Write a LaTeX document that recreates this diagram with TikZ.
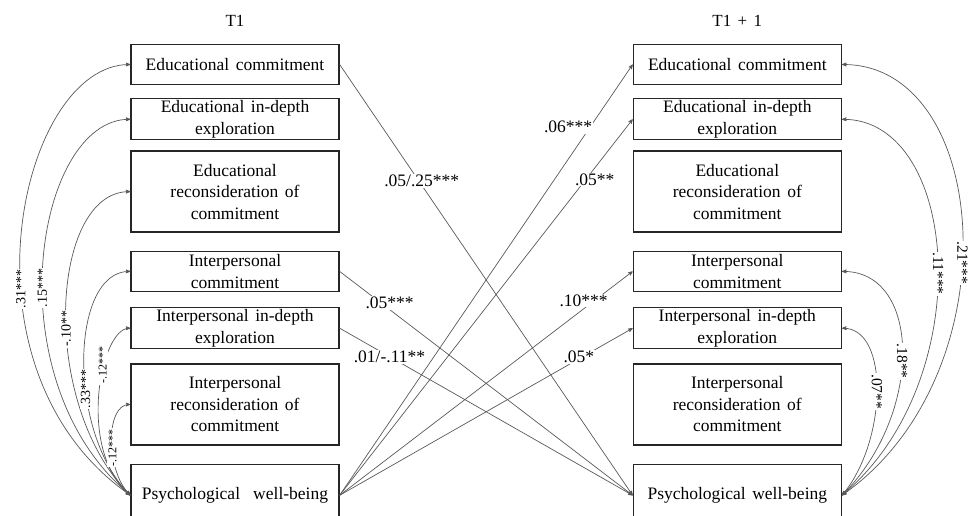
\documentclass[tikz,border=0pt]{standalone}
\usepackage{fontspec}
\setmainfont[WordSpace=1.5]{Liberation Serif}
\usepackage{tikz}
\usetikzlibrary{arrows,positioning}

\begin{document}
\begin{tikzpicture}[x=1pt,y=1pt,->,>=stealth',line width=0.7pt,black!65,
	box/.style={draw=black!85,line width=1.3pt,rectangle,minimum width=208pt,minimum height=40pt,inner sep=1pt,align=center,text=black,font=\fontsize{17.5}{21.5}\selectfont},
	tall/.style={box,minimum height=81pt},
	title/.style={text=black,font=\fontsize{17}{20}\selectfont},
	coef/.style={fill=white,inner sep=1pt,text=black,font=\fontsize{17.5}{20}\selectfont},
	lcorr/.style={fill=white,inner sep=1pt,rotate=90,text=black,font=\fontsize{14}{16}\selectfont},
	lsmall/.style={lcorr,font=\fontsize{12}{14}\selectfont},
	rcorr/.style={fill=white,inner sep=1pt,rotate=-90,text=black,font=\fontsize{15.5}{17}\selectfont}]
	\useasboundingbox (0,0) rectangle (968,-516);

	\node[box]				(lEC)	at (235,-64.5)					{Educational commitment};
	\node[box]				(lED)	[below=13pt of lEC,minimum height=41pt]	{Educational in-depth\\exploration};
	\node[tall]				(lER)	[below=10pt of lED]				{Educational\\reconsideration of\\commitment};
	\node[box]				(lIC)	[below=18pt of lER]				{Interpersonal\\commitment};
	\node[box]				(lID)	[below=15pt of lIC,minimum height=41pt]	{Interpersonal in-depth\\exploration};
	\node[tall]				(lIR)	[below=14pt of lID]				{Interpersonal\\reconsideration of\\commitment};
	\node[box]				(lPWB)	[below=18pt of lIR,minimum height=62pt]	{Psychological\ \ well-being};

	\node[box]				(rEC)	[right=293pt of lEC]			{Educational commitment};
	\node[box]				(rED)	[right=293pt of lED,minimum height=41pt]	{Educational in-depth\\exploration};
	\node[tall]				(rER)	[right=293pt of lER]			{Educational\\reconsideration of\\commitment};
	\node[box]				(rIC)	[right=293pt of lIC]			{Interpersonal\\commitment};
	\node[box]				(rID)	[right=293pt of lID,minimum height=41pt]	{Interpersonal in-depth\\exploration};
	\node[tall]				(rIR)	[right=293pt of lIR]			{Interpersonal\\reconsideration of\\commitment};
	\node[box]				(rPWB)	[right=293pt of lPWB,minimum height=62pt]	{Psychological well-being};

	\node[title]			(t1)	[above=14pt of lEC]				{T1};
	\node[title]			(t2)	[above=14pt of rEC]				{T1 + 1};

	\path
		(lEC.east)	edge	node[coef,pos=0.27,xshift=3pt]		{.05/.25***}	(rPWB.west)
		(lIC.east)	edge	node[coef,pos=0.14,xshift=9pt]		{.05***}		(rPWB.west)
		(lID.east)	edge	node[coef,pos=0.17]					{.01/-.11**}	(rPWB.west)
		(lPWB.east)	edge	node[coef,pos=0.855,xshift=-22pt]	{.06***}		(rEC.west)
		(lPWB.east)	edge	node[coef,pos=0.84,xshift=9pt]		{.05**}			(rED.west)
		(lPWB.east)	edge	node[coef,pos=0.87,xshift=-11pt]	{.10***}		(rIC.west)
		(lPWB.east)	edge	node[coef,pos=0.83,xshift=-4pt]		{.05*}			(rID.west)
	;

	\path[<->]
		(lPWB.west)	edge	[out=145,in=180,out distance=220pt,in distance=110pt]	node[lcorr,pos=0.4]		{.31***}	(lEC.west)
		(lPWB.west)	edge	[out=140,in=180,out distance=180pt,in distance=95pt]	node[lcorr,pos=0.45]	{.15***}	(lED.west)
		(lPWB.west)	edge	[out=135,in=180,out distance=130pt,in distance=80pt]	node[lcorr,pos=0.45]	{-.10**}	(lER.west)
		(lPWB.west)	edge	[out=135,in=180,out distance=90pt,in distance=60pt]		node[lcorr,pos=0.4]		{.33***}	(lIC.west)
		(lPWB.west)	edge	[out=140,in=180,out distance=70pt,in distance=30pt]		node[lsmall,pos=0.62,xshift=5pt]	{-.12***}	(lID.west)
		(lPWB.west)	edge	[out=135,in=180,out distance=35pt,in distance=25pt]		node[lsmall,pos=0.4,xshift=5pt]		{-.12***}	(lIR.west)
		(rPWB.east)	edge	[out=35,in=0,out distance=210pt,in distance=150pt]		node[rcorr,pos=0.45]	{.21***}	(rEC.east)
		(rPWB.east)	edge	[out=40,in=0,out distance=180pt,in distance=118pt]		node[rcorr,pos=0.48]	{.11***}	(rED.east)
		(rPWB.east)	edge	[out=45,in=0,out distance=115pt,in distance=80pt]		node[rcorr,pos=0.47]	{.18**}		(rIC.east)
		(rPWB.east)	edge	[out=50,in=0,out distance=70pt,in distance=48pt]		node[rcorr,pos=0.5]		{.07**}		(rID.east)
	;
\end{tikzpicture}
\end{document}
